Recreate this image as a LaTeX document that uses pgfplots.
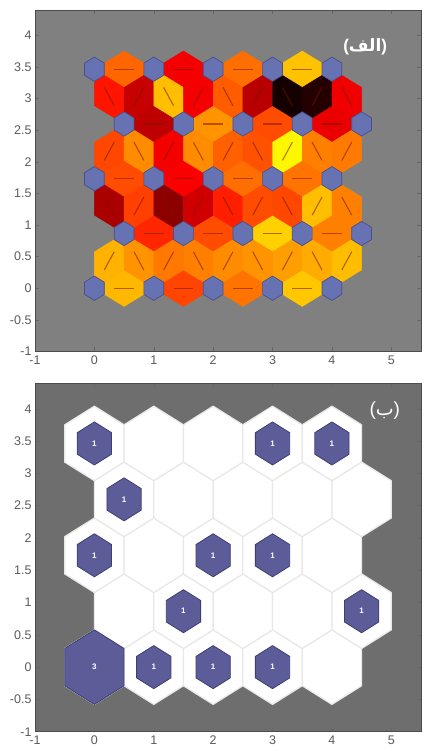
\documentclass[border=0pt]{standalone}
\usepackage{pgfplots}
\pgfplotsset{compat=1.18}
\usepackage{pgfplotstable}
\usepackage{fontspec}
\setmainfont{Liberation Sans}
\newfontfamily\arabicfont[Script=Arabic]{DejaVu Sans}
\TeXXeTstate=1

\definecolor{bgA}{RGB}{128,128,128}
\definecolor{bgB}{RGB}{110,110,110}
\definecolor{neu}{RGB}{102,114,178}
\definecolor{neuE}{RGB}{72,80,138}
\definecolor{hit}{RGB}{92,92,152}
\definecolor{hitE}{RGB}{62,62,115}
\definecolor{cellE}{RGB}{232,232,232}
\definecolor{lnc}{RGB}{120,20,0}
\definecolor{tickc}{RGB}{90,90,90}

% unit pointy-top hexagon
\pgfplotstableread{
x y
0 1
0.8660 0.5
0.8660 -0.5
0 -1
-0.8660 -0.5
-0.8660 0.5
0 1
}\shapeN
% link patches: horizontal, 60 deg (/), 120 deg (\)
\pgfplotstableread{
x y
-0.3333 0.0962
0 0.2887
0.3333 0.0962
0.3333 -0.0962
0 -0.2887
-0.3333 -0.0962
-0.3333 0.0962
}\shapeH
\pgfplotstableread{
x y
-0.2500 -0.2406
-0.2500 0.1443
0.0834 0.3367
0.2500 0.2406
0.2500 -0.1443
-0.0834 -0.3367
-0.2500 -0.2406
}\shapeP
\pgfplotstableread{
x y
0.2500 -0.2406
0.2500 0.1443
-0.0834 0.3367
-0.2500 0.2406
-0.2500 -0.1443
0.0834 -0.3367
0.2500 -0.2406
}\shapeB
\pgfplotstableread{
x y
-0.1667 0
0.1667 0
}\lineH
\pgfplotstableread{
x y
-0.0833 -0.1443
0.0833 0.1443
}\lineP
\pgfplotstableread{
x y
0.0833 -0.1443
-0.0833 0.1443
}\lineB

% link: x, y, direction (H,P,B), level 0 (yellow) .. 100 (red) .. 200 (black)
\newcommand\lk[4]{%
  \ifnum#4>100\relax
    \edef\lkcol{black!\the\numexpr#4-100\relax!red}%
  \else
    \edef\lkcol{red!#4!yellow}%
  \fi
  \edef\tmp{%
    \noexpand\addplot[draw=\lkcol,line width=0.3pt,fill=\lkcol,forget plot]
      table[x expr=\noexpand\thisrow{x}+#1,y expr=\noexpand\thisrow{y}+#2]
      {\expandafter\noexpand\csname shape#3\endcsname};%
    \noexpand\addplot[draw=\lkcol!45!lnc,line width=1.1pt,forget plot]
      table[x expr=\noexpand\thisrow{x}+#1,y expr=\noexpand\thisrow{y}+#2]
      {\expandafter\noexpand\csname line#3\endcsname};%
  }\tmp}
\newcommand\neur[2]{\addplot[fill=neu,draw=neuE,line width=0.7pt,forget plot]
  table[x expr=\thisrow{x}*0.1925+#1,y expr=\thisrow{y}*0.1925+#2]{\shapeN};}
\newcommand\cell[2]{\addplot[fill=white,draw=cellE,line width=1.2pt,forget plot]
  table[x expr=\thisrow{x}*0.5774+#1,y expr=\thisrow{y}*0.5774+#2]{\shapeN};}
\newcommand\hit[3]{\addplot[fill=hit,draw=hitE,line width=0.8pt,forget plot]
  table[x expr=\thisrow{x}*0.5774*sqrt(#3/3)+#1,y expr=\thisrow{y}*0.5774*sqrt(#3/3)+#2]{\shapeN};}

\pgfplotsset{somax/.style={
  scale only axis, width=386pt, anchor=south west,
  xmin=-1, xmax=5.5, ymin=-1, ymax=4.4,
  xtick={-1,0,...,5}, ytick={-1,-0.5,...,4},
  tick align=inside, major tick length=4pt,
  tick style={draw=black!60, line width=0.5pt},
  axis line style={draw=black!70, line width=0.8pt},
  ticklabel style={font=\fontsize{12.5}{14}\selectfont, text=tickc},
  xticklabel style={yshift=-0.5pt},
  /pgf/number format/assume math mode=true,
}}

\begin{document}
\begin{tikzpicture}
\useasboundingbox (0,0) rectangle (423pt,751pt);

% ---------------- top: neighbour distances ----------------
\begin{axis}[somax, at={(35pt,399.5pt)}, height=341.5pt,
  axis background/.style={fill=bgA}]
% horizontal links
\lk{0.5}{3.464}{H}{60}
\lk{1.5}{3.464}{H}{104}
\lk{2.5}{3.464}{H}{57}
\lk{3.5}{3.464}{H}{24}
\lk{1}{2.598}{H}{125}
\lk{2}{2.598}{H}{42}
\lk{3}{2.598}{H}{70}
\lk{4}{2.598}{H}{108}
\lk{0.5}{1.732}{H}{70}
\lk{1.5}{1.732}{H}{102}
\lk{2.5}{1.732}{H}{57}
\lk{3.5}{1.732}{H}{55}
\lk{1}{0.866}{H}{85}
\lk{2}{0.866}{H}{70}
\lk{3}{0.866}{H}{18}
\lk{4}{0.866}{H}{50}
\lk{0.5}{0}{H}{28}
\lk{1.5}{0}{H}{73}
\lk{2.5}{0}{H}{55}
\lk{3.5}{0}{H}{22}
% diagonal links, rows 3-4
\lk{0.25}{3.031}{B}{92}
\lk{0.75}{3.031}{P}{122}
\lk{1.25}{3.031}{B}{25}
\lk{1.75}{3.031}{P}{104}
\lk{2.25}{3.031}{B}{64}
\lk{2.75}{3.031}{P}{128}
\lk{3.25}{3.031}{B}{192}
\lk{3.75}{3.031}{P}{186}
\lk{4.25}{3.031}{B}{106}
% rows 2-3
\lk{0.25}{2.165}{P}{72}
\lk{0.75}{2.165}{B}{45}
\lk{1.25}{2.165}{P}{104}
\lk{1.75}{2.165}{B}{45}
\lk{2.25}{2.165}{P}{62}
\lk{2.75}{2.165}{B}{68}
\lk{3.25}{2.165}{P}{3}
\lk{3.75}{2.165}{B}{50}
\lk{4.25}{2.165}{P}{52}
% rows 1-2
\lk{0.25}{1.299}{B}{133}
\lk{0.75}{1.299}{P}{75}
\lk{1.25}{1.299}{B}{145}
\lk{1.75}{1.299}{P}{118}
\lk{2.25}{1.299}{B}{88}
\lk{2.75}{1.299}{P}{70}
\lk{3.25}{1.299}{B}{72}
\lk{3.75}{1.299}{P}{25}
\lk{4.25}{1.299}{B}{50}
% rows 0-1
\lk{0.25}{0.433}{P}{30}
\lk{0.75}{0.433}{B}{42}
\lk{1.25}{0.433}{P}{53}
\lk{1.75}{0.433}{B}{50}
\lk{2.25}{0.433}{P}{45}
\lk{2.75}{0.433}{B}{42}
\lk{3.25}{0.433}{P}{38}
\lk{3.75}{0.433}{B}{33}
\lk{4.25}{0.433}{P}{26}
% neurons
\neur{0}{0}\neur{1}{0}\neur{2}{0}\neur{3}{0}\neur{4}{0}
\neur{0.5}{0.866}\neur{1.5}{0.866}\neur{2.5}{0.866}\neur{3.5}{0.866}\neur{4.5}{0.866}
\neur{0}{1.732}\neur{1}{1.732}\neur{2}{1.732}\neur{3}{1.732}\neur{4}{1.732}
\neur{0.5}{2.598}\neur{1.5}{2.598}\neur{2.5}{2.598}\neur{3.5}{2.598}\neur{4.5}{2.598}
\neur{0}{3.464}\neur{1}{3.464}\neur{2}{3.464}\neur{3}{3.464}\neur{4}{3.464}
\node[text=white, inner sep=0pt] at (axis cs:4.56,3.82)
  {\fontsize{17}{20}\selectfont\bfseries(\hbox{\arabicfont\beginR الف\endR})};
\end{axis}

% ---------------- bottom: hits ----------------
\begin{axis}[somax, at={(35pt,19.3pt)}, height=348.7pt,
  axis background/.style={fill=bgB}]
\cell{0}{0}\cell{1}{0}\cell{2}{0}\cell{3}{0}\cell{4}{0}
\cell{0.5}{0.866}\cell{1.5}{0.866}\cell{2.5}{0.866}\cell{3.5}{0.866}\cell{4.5}{0.866}
\cell{0}{1.732}\cell{1}{1.732}\cell{2}{1.732}\cell{3}{1.732}\cell{4}{1.732}
\cell{0.5}{2.598}\cell{1.5}{2.598}\cell{2.5}{2.598}\cell{3.5}{2.598}\cell{4.5}{2.598}
\cell{0}{3.464}\cell{1}{3.464}\cell{2}{3.464}\cell{3}{3.464}\cell{4}{3.464}
\hit{0}{3.464}{1}\hit{3}{3.464}{1}\hit{4}{3.464}{1}
\hit{0.5}{2.598}{1}
\hit{0}{1.732}{1}\hit{2}{1.732}{1}\hit{3}{1.732}{1}
\hit{1.5}{0.866}{1}\hit{4.5}{0.866}{1}
\hit{0}{0}{3}\hit{1}{0}{1}\hit{2}{0}{1}\hit{3}{0}{1}
\addplot[draw=none, mark=none, nodes near coords, point meta=explicit symbolic,
  nodes near coords align=center,
  every node near coord/.append style={font=\bfseries\fontsize{8}{9}\selectfont, text=white}]
  table[meta=c]{
x y c
0 3.464 1
3 3.464 1
4 3.464 1
0.5 2.598 1
0 1.732 1
2 1.732 1
3 1.732 1
1.5 0.866 1
4.5 0.866 1
0 0 3
1 0 1
2 0 1
3 0 1
};
\node[text=white, inner sep=0pt] at (axis cs:4.89,3.98)
  {\fontsize{19}{22}\selectfont(\hbox{\arabicfont\beginR ب\endR})};
\end{axis}
\end{tikzpicture}
\end{document}
